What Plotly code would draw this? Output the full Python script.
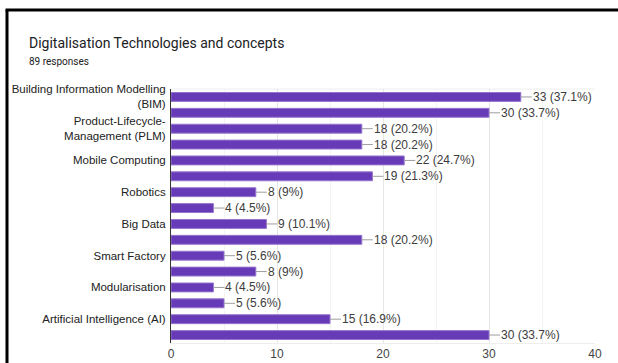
import plotly.graph_objects as go

title = "Digitalisation Technologies and concepts"
subtitle = "89 responses"
total = 89
values = [33, 30, 18, 18, 22, 19, 8, 4, 9, 18, 5, 8, 4, 5, 15, 30]
tick_positions = [0, 2, 4, 6, 8, 10, 12, 14]
tick_labels = [
    "Building Information Modelling<br>(BIM)",
    "Product-Lifecycle-<br>Management (PLM)",
    "Mobile Computing",
    "Robotics",
    "Big Data",
    "Smart Factory",
    "Modularisation",
    "Artificial Intelligence (AI)",
]
x_ticks = [0, 10, 20, 30, 40]

positions = list(range(len(values)))


def fmt(v):
    p = round(v / total * 100, 1)
    s = f"{p:.1f}"
    if s.endswith(".0"):
        s = s[:-2]
    return f"{v} ({s}%)"


fig = go.Figure()
fig.add_trace(go.Bar(
    x=values, y=positions, orientation="h",
    marker=dict(color="#673ab7", line=dict(color="#9575cd", width=1)),
    width=0.56, hoverinfo="skip",
))

for v, p in zip(values, positions):
    fig.add_annotation(
        x=v, y=p, xref="x", yref="y", text=fmt(v),
        showarrow=True, arrowhead=0, arrowwidth=1, arrowcolor="#9e9e9e",
        ax=11, ay=0, axref="pixel", ayref="pixel", xanchor="left", standoff=0,
        font=dict(family="Liberation Sans, Arial", size=12, color="#3c3c3c"),
        borderpad=0,
    )

# frame lines (screenshot border)
L, R, T, B = 171, 595, 89, 343
def px(xp):
    return (xp - L) / (R - L)
def py(yp):
    return (B - yp) / (B - T)

fig.add_shape(type="line", xref="paper", yref="paper",
              x0=px(7), x1=px(7), y0=py(363), y1=py(10),
              line=dict(color="black", width=3))
fig.add_shape(type="line", xref="paper", yref="paper",
              x0=px(5.5), x1=px(618), y0=py(10), y1=py(10),
              line=dict(color="black", width=3))
# plot box top
fig.add_shape(type="line", xref="paper", yref="paper",
              x0=0, x1=1, y0=1, y1=1, line=dict(color="#eeeeee", width=1), layer="below")

fig.add_annotation(xref="paper", yref="paper", x=px(27), y=py(43), text=title,
                   showarrow=False, xanchor="left", yanchor="middle",
                   font=dict(family="Roboto", size=14, color="#202124"))
fig.add_annotation(xref="paper", yref="paper", x=px(27), y=py(62), text=subtitle,
                   showarrow=False, xanchor="left", yanchor="middle",
                   font=dict(family="Roboto", size=10, color="#202124"))

fig.update_layout(
    width=618, height=363,
    margin=dict(l=L, r=618 - R, t=T, b=363 - B),
    paper_bgcolor="white", plot_bgcolor="white",
    showlegend=False,
    xaxis=dict(range=[0, 40], tickvals=x_ticks, ticktext=[str(t) for t in x_ticks],
               showgrid=True, gridcolor="#e6e6e6", gridwidth=1,
               minor=dict(dtick=5, showgrid=True, gridcolor="#f3f3f3"),
               zeroline=False, showline=True, linecolor="#eeeeee",
               tickfont=dict(family="Liberation Sans, Arial", size=12, color="#444444"),
               ticks="", fixedrange=True, automargin=False),
    yaxis=dict(range=[15.5, -0.5], tickvals=tick_positions, ticktext=tick_labels,
               showgrid=False, zeroline=False, showline=True, linecolor="#333333",
               tickfont=dict(family="Liberation Sans, Arial", size=11.5, color="#222222"),
               ticks="", ticklabelstandoff=2, fixedrange=True, automargin=False),
)

fig.write_html("out.html")
